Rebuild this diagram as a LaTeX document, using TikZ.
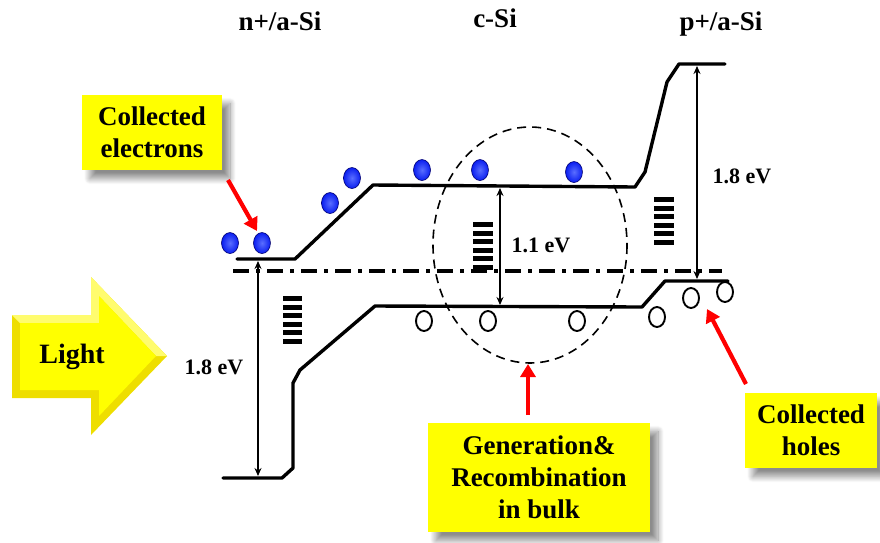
\documentclass[tikz,border=0pt]{standalone}
\usepackage{fontspec}
\setmainfont{Liberation Serif}
\usetikzlibrary{arrows.meta,shapes.geometric,shadows.blur}
\definecolor{ylw}{RGB}{255,255,0}
\definecolor{bevel}{RGB}{238,222,0}
\definecolor{bevellight}{RGB}{255,252,110}
\definecolor{eblue}{RGB}{10,30,240}
\definecolor{eblueL}{RGB}{90,110,255}
\begin{document}
\begin{tikzpicture}[x=1pt,y=-1pt,
  band/.style={line width=3.4pt,line join=round,line cap=round},
  fermi/.style={line width=3.4pt,dash pattern=on 16pt off 7pt on 4pt off 7pt},
  gap/.style={line width=1.6pt,{Stealth[length=8pt,width=7pt]}-{Stealth[length=8pt,width=7pt]}},
  evlabel/.style={font=\fontsize{22}{26}\selectfont\bfseries,inner sep=0pt},
  header/.style={font=\fontsize{27}{30}\selectfont\bfseries,inner sep=0pt,anchor=base},
  electron/.style={ellipse,minimum width=17pt,minimum height=21pt,inner sep=0pt,draw=blue!45!black,line width=0.6pt,
    inner color=eblueL,outer color=eblue},
  hole/.style={ellipse,minimum width=16pt,minimum height=20pt,inner sep=0pt,draw=black,line width=1.9pt,fill=white},
  callout/.style={fill=ylw,inner sep=0pt,align=center,font=\fontsize{27}{32}\selectfont\bfseries,
    blur shadow={shadow xshift=8pt,shadow yshift=-9pt,shadow blur steps=12,shadow blur radius=6pt,shadow opacity=45}},
  redarrow/.style={draw=red,line width=4.2pt,-{Triangle[width=15pt,length=13pt]}},
  trap/.style={fill=black}
]
\useasboundingbox (0,0) rectangle (880,542);

% headers
\node[header] (hn) at (280,30) {n+/a-Si};
\node[header] (hc) at (495,27) {c-Si};
\node[header] (hp) at (721,30) {p+/a-Si};

% conduction band
\draw[band] (237,259) -- (295,259) -- (373,185) -- (635,187) -- (645,172) -- (667,82) -- (679,64) -- (725,64);
% valence band
\draw[band] (223,478) -- (282,478) -- (293,468) -- (293,383) -- (300,370) -- (375,306) -- (642,307) -- (665,281) -- (728,281);
% Fermi level
\draw[fermi] (233,271) -- (722,271);

% traps
\foreach \y in {0,1,2,3,4,5}{
  \fill[trap] (283,{296+8.6*\y}) rectangle (302,{301+8.6*\y});
  \fill[trap] (473,{222+8.6*\y}) rectangle (493,{227+8.6*\y});
  \fill[trap] (654,{197+8.6*\y}) rectangle (674,{202+8.6*\y});
}

% dashed ellipse
\draw[line width=1.6pt,dash pattern=on 9pt off 6pt] (530,245) ellipse [x radius=97,y radius=118];

% gap arrows
\coordinate (lt) at (258,261); \coordinate (lb) at (258,476);
\coordinate (mt) at (500,188); \coordinate (mb) at (500,305);
\coordinate (rt) at (697,66);  \coordinate (rb) at (697,279);
\draw[gap] (lt) -- (lb);
\draw[gap] (mt) -- (mb);
\draw[gap] (rt) -- (rb);
\node[evlabel] (l18) at (214,367) {1.8 eV};
\node[evlabel] (l11) at (541,245) {1.1 eV};
\node[evlabel] (r18) at (742,176) {1.8 eV};

% electrons
\node[electron] (e1) at (230,243) {};
\node[electron] (e2) at (262,243) {};
\node[electron] (e3) at (330,203) {};
\node[electron] (e4) at (352,178) {};
\node[electron] (e5) at (422,170) {};
\node[electron] (e6) at (480,170) {};
\node[electron] (e7) at (574,172) {};

% holes
\node[hole] (h1) at (424,321) {};
\node[hole] (h2) at (488,321) {};
\node[hole] (h3) at (577,321) {};
\node[hole] (h4) at (657,317) {};
\node[hole] (h5) at (691,298) {};
\node[hole] (h6) at (725,292) {};

% Light arrow
\fill[bevel] (12,315) -- (91,315) -- (91,277) -- (167,356) -- (91,435) -- (91,398) -- (12,398) -- cycle;
\fill[bevellight] (12,315) -- (91,315) -- (91,277) -- (167,356) -- (156,356) -- (99,296) -- (99,323) -- (20,323) -- cycle;
\fill[ylw] (20,323) -- (99,323) -- (99,296) -- (156,356) -- (99,416) -- (99,390) -- (20,390) -- cycle;
\node[font=\fontsize{28}{32}\selectfont\bfseries,inner sep=0pt] (light) at (72,357) {Light};

% callout boxes
\node[callout,minimum width=140pt,minimum height=75pt] (ce) at (152,132) {Collected\\electrons};
\node[callout,minimum width=222pt,minimum height=109pt] (gr) at (539,477) {Generation\&\\Recombination\\in bulk};
\node[callout,minimum width=132pt,minimum height=75pt] (ch) at (811,430) {Collected\\holes};

% red arrows
\coordinate (ceTail) at (228,180); \coordinate (ceHead) at (257,231);
\coordinate (grTail) at (528,415); \coordinate (grHead) at (528,364);
\coordinate (chTail) at (746,384); \coordinate (chHead) at (707,309);
\draw[redarrow] (ceTail) -- (ceHead);
\draw[redarrow] (grTail) -- (grHead);
\draw[redarrow] (chTail) -- (chHead);
\end{tikzpicture}
\end{document}
